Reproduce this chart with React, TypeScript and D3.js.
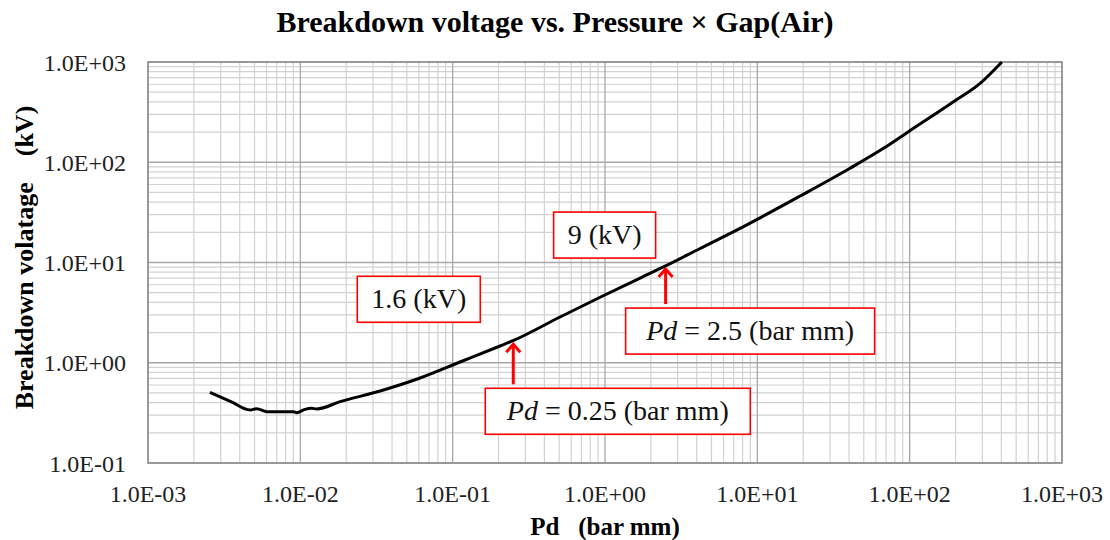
import React from 'react';
import * as d3 from 'd3';

// breakdown curve of air (Pd in bar mm, V in kV)
const pdValues = [
  0.00255, 0.0035, 0.00468, 0.00517, 0.00602, 0.00899, 0.00947, 0.01074, 0.01188, 0.01281,
  0.01823, 0.0334, 0.0611, 0.1118, 0.2048, 0.249, 0.507, 0.929, 1.7, 2.557,
  4.21, 7.71, 19.1, 40.6, 67.3, 98.2, 194, 290, 403,
];
const kvValues = [
  0.507, 0.41, 0.338, 0.348, 0.325, 0.325, 0.318, 0.343, 0.351, 0.346,
  0.409, 0.523, 0.705, 1.017, 1.469, 1.66, 2.86, 4.5, 7.0, 9.4,
  13.8, 21.9, 46, 87.1, 137.7, 202, 402, 612, 1000,
];

const xTicks = [1e-3, 1e-2, 1e-1, 1, 10, 100, 1000];
const xTickLabels = ['1.0E-03', '1.0E-02', '1.0E-01', '1.0E+00', '1.0E+01', '1.0E+02', '1.0E+03'];
const yTicks = [0.1, 1, 10, 100, 1000];
const yTickLabels = ['1.0E-01', '1.0E+00', '1.0E+01', '1.0E+02', '1.0E+03'];

// marked points on the curve
const calloutPd = [0.25, 2.5];
const calloutKv = [1.6, 9];
const calloutPdText = ['0.25', '2.5'];
const calloutKvText = ['1.6 (kV)', '9 (kV)'];

// box placement relative to the arrow tip (px)
const calloutLayout = [
  { vx: -156, vy: -66, vw: 123, px: -28, py: 46, pw: 265 },
  { vx: -112, vy: -55, vw: 102, px: -40, py: 41, pw: 249 },
];

const W = 1110;
const H = 540;
const margin = { top: 62, right: 48, bottom: 77, left: 148 };
const serif = 'Liberation Serif';

export default function App() {
  const x = d3.scaleLog().domain([1e-3, 1e3]).range([margin.left, W - margin.right]);
  const y = d3.scaleLog().domain([0.1, 1000]).range([H - margin.bottom, margin.top]);
  const [x0, x1] = x.range();
  const [y0, y1] = y.range();

  const isMajor = (v: number) => Math.abs(Math.log10(v) - Math.round(Math.log10(v))) < 1e-9;

  const line = d3
    .line<number>()
    .x((_, i) => x(pdValues[i]))
    .y((d) => y(d))
    .curve(d3.curveMonotoneX);

  const red = '#ff0000';

  return (
    <svg
      width={W}
      height={H}
      fontFamily={serif}
      style={{ position: 'absolute', left: 0, top: 0, background: '#fff' }}
    >
      <rect width={W} height={H} fill="#fff" />

      {/* grid */}
      <g>
        {x.ticks().filter((v) => !isMajor(v)).map((v, i) => (
          <line key={'xm' + i} x1={x(v)} x2={x(v)} y1={y1} y2={y0} stroke="#d2d2d2" strokeWidth={1.2} />
        ))}
        {y.ticks().filter((v) => !isMajor(v)).map((v, i) => (
          <line key={'ym' + i} x1={x0} x2={x1} y1={y(v)} y2={y(v)} stroke="#d2d2d2" strokeWidth={1.2} />
        ))}
        {xTicks.map((v, i) => (
          <line key={'xM' + i} x1={x(v)} x2={x(v)} y1={y1} y2={y0} stroke="#a8a8a8" strokeWidth={1.3} />
        ))}
        {yTicks.map((v, i) => (
          <line key={'yM' + i} x1={x0} x2={x1} y1={y(v)} y2={y(v)} stroke="#a8a8a8" strokeWidth={1.3} />
        ))}
        <rect x={x0} y={y1} width={x1 - x0} height={y0 - y1} fill="none" stroke="#8c8c8c" strokeWidth={1.5} />
      </g>

      {/* tick labels */}
      <g fontSize={24} fill="#222">
        {xTicks.map((v, i) => (
          <text key={'xl' + i} x={x(v)} y={y0 + 39} textAnchor="middle">
            {xTickLabels[i]}
          </text>
        ))}
        {yTicks.map((v, i) => (
          <text key={'yl' + i} x={x0 - 22} y={y(v) + 8.5} textAnchor="end">
            {yTickLabels[i]}
          </text>
        ))}
      </g>

      {/* curve */}
      <path d={line(kvValues) ?? ''} fill="none" stroke="#000" strokeWidth={3} strokeLinejoin="round" />

      {/* callouts */}
      {calloutPd.map((pd, i) => {
        const tx = x(pd);
        const ty = y(calloutKv[i]);
        const L = calloutLayout[i];
        return (
          <g key={'c' + i}>
            <line x1={tx} x2={tx} y1={ty + L.py - 4} y2={ty + 2} stroke={red} strokeWidth={3} />
            <path d={`M${tx - 7},${ty + 10} L${tx},${ty + 2} L${tx + 7},${ty + 10}`} fill="none" stroke={red} strokeWidth={3} />
            <rect x={tx + L.vx} y={ty + L.vy} width={L.vw} height={46} fill="#fff" stroke={red} strokeWidth={1.6} />
            <text x={tx + L.vx + L.vw / 2} y={ty + L.vy + 32} textAnchor="middle" fontSize={28} fill="#111">
              {calloutKvText[i]}
            </text>
            <rect x={tx + L.px} y={ty + L.py} width={L.pw} height={46} fill="#fff" stroke={red} strokeWidth={1.6} />
            <text x={tx + L.px + L.pw / 2} y={ty + L.py + 32} textAnchor="middle" fontSize={28} fill="#111">
              <tspan fontStyle="italic">Pd</tspan>
              {` = ${calloutPdText[i]} (bar mm)`}
            </text>
          </g>
        );
      })}

      {/* titles */}
      <text x={W / 2} y={32} textAnchor="middle" fontWeight="bold" fontSize={30} fill="#000">
        Breakdown voltage vs. Pressure × Gap(Air)
      </text>
      <text x={(x0 + x1) / 2} y={535} textAnchor="middle" fontWeight="bold" fontSize={25} fill="#000" xmlSpace="preserve">
        Pd   (bar mm)
      </text>
      <text
        transform={`translate(33, ${(y0 + y1) / 2 - 5}) rotate(-90)`}
        textAnchor="middle"
        fontWeight="bold"
        fontSize={26}
        fill="#000"
        xmlSpace="preserve"
      >
        Breakdown volatage    (kV)
      </text>
    </svg>
  );
}
